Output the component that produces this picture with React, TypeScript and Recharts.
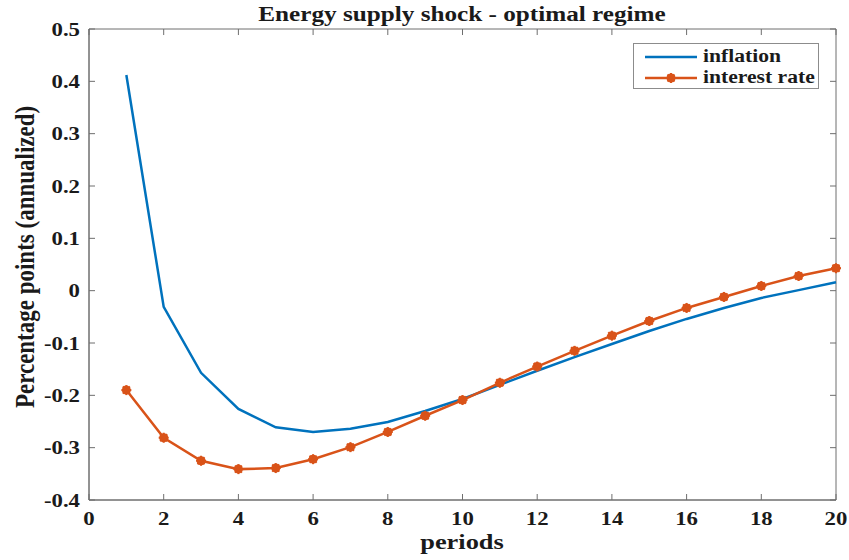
import { LineChart, Line, XAxis, YAxis, Legend, ReferenceArea, ReferenceLine } from 'recharts';

const periods = [1, 2, 3, 4, 5, 6, 7, 8, 9, 10, 11, 12, 13, 14, 15, 16, 17, 18, 19, 20];
const inflation = [0.412, -0.031, -0.157, -0.226, -0.261, -0.27, -0.264, -0.251, -0.23, -0.207, -0.18, -0.153, -0.127, -0.102, -0.077, -0.054, -0.033, -0.014, 0.001, 0.016];
const interestRate = [-0.19, -0.281, -0.325, -0.341, -0.339, -0.322, -0.299, -0.27, -0.239, -0.209, -0.176, -0.145, -0.115, -0.086, -0.058, -0.033, -0.012, 0.009, 0.028, 0.043];
const xTicks = [0, 2, 4, 6, 8, 10, 12, 14, 16, 18, 20];
const yTicks = [-0.4, -0.3, -0.2, -0.1, 0, 0.1, 0.2, 0.3, 0.4, 0.5];

const data = periods.map((p, i) => ({ period: p, inflation: inflation[i], rate: interestRate[i] }));

const BLUE = '#0072BD';
const ORANGE = '#D95319';
const AXIS = '#6e6e6e';
const TEXT = '#1a1a1a';
const FONT = '"Liberation Serif", "Times New Roman", serif';
const SX = 1.2; // the reference text is a bit wide

// matlab '*' marker drawn thick
function StarDot(props: any) {
  const { cx, cy, key } = props;
  if (cx == null || cy == null) return null;
  const r = 5;
  const d = r * 0.707;
  return (
    <g key={key} stroke={ORANGE} strokeWidth={2}>
      <circle cx={cx} cy={cy} r={3.5} fill={ORANGE} />
      <line x1={cx - r} y1={cy} x2={cx + r} y2={cy} />
      <line x1={cx} y1={cy - r} x2={cx} y2={cy + r} />
      <line x1={cx - d} y1={cy - d} x2={cx + d} y2={cy + d} />
      <line x1={cx - d} y1={cy + d} x2={cx + d} y2={cy - d} />
    </g>
  );
}

function XTick({ x, y, payload }: any) {
  return (
    <text transform={`translate(${x},${y}) scale(${SX},1)`} textAnchor="middle" fontFamily={FONT} fontWeight={700} fontSize={19} fill={TEXT}>
      {payload.value}
    </text>
  );
}

function YTick({ x, y, payload }: any) {
  const v = payload.value;
  return (
    <text transform={`translate(${x},${y + 6.5}) scale(${SX},1)`} textAnchor="end" fontFamily={FONT} fontWeight={700} fontSize={19} fill={TEXT}>
      {v === 0 ? '0' : v.toFixed(1)}
    </text>
  );
}

function LegendBox() {
  const row = { display: 'flex', alignItems: 'center', height: 21 } as const;
  const label = { marginLeft: 6, display: 'inline-block', transform: `scaleX(${SX})`, transformOrigin: 'left center' } as const;
  return (
    <div style={{ width: 186, height: 46, border: '1px solid #8c8c8c', background: '#fff', fontFamily: FONT, fontWeight: 700, fontSize: 18, color: TEXT, boxSizing: 'border-box', padding: '2px 0 0 11px', lineHeight: '21px' }}>
      <div style={row}>
        <svg width={52} height={10}><line x1={0} y1={5} x2={52} y2={5} stroke={BLUE} strokeWidth={2.5} /></svg>
        <span style={label}>inflation</span>
      </div>
      <div style={row}>
        <svg width={52} height={12}>
          <line x1={0} y1={6} x2={52} y2={6} stroke={ORANGE} strokeWidth={2.5} />
          <StarDot cx={26} cy={6} />
        </svg>
        <span style={label}>interest rate</span>
      </div>
    </div>
  );
}

export default function App() {
  return (
    <div style={{ position: 'absolute', left: 0, top: 0, width: 849, height: 560, background: '#fff' }}>
      <LineChart width={849} height={560} data={data} margin={{ top: 29, right: 13, left: 0, bottom: 0 }}>
        <XAxis
          dataKey="period"
          type="number"
          domain={[0, 20]}
          ticks={xTicks}
          height={60}
          tickSize={-6}
          tickMargin={31}
          tickLine={{ stroke: AXIS }}
          axisLine={{ stroke: AXIS }}
          tick={<XTick />}
          label={() => (
            <g>
              <text transform={`translate(462,549) scale(${SX},1)`} textAnchor="middle" fontFamily={FONT} fontWeight={700} fontSize={22} fill={TEXT}>periods</text>
              <text transform={`translate(462,21) scale(${SX},1)`} textAnchor="middle" fontFamily={FONT} fontWeight={700} fontSize={21} fill={TEXT}>Energy supply shock - optimal regime</text>
            </g>
          )}
        />
        <YAxis
          type="number"
          domain={[-0.4, 0.5]}
          ticks={yTicks}
          width={89}
          tickSize={-6}
          tickMargin={15}
          tickLine={{ stroke: AXIS }}
          axisLine={{ stroke: AXIS }}
          tick={<YTick />}
          label={() => (
            <text transform={`translate(34,257) rotate(-90) scale(1,${SX})`} textAnchor="middle" fontFamily={FONT} fontWeight={700} fontSize={23} fill={TEXT}>Percentage points (annualized)</text>
          )}
        />
        <ReferenceArea x1={0} x2={20} y1={-0.4} y2={0.5} fill="none" stroke={AXIS} strokeWidth={1} />
        {xTicks.map((t) => (
          <ReferenceLine key={`tx${t}`} segment={[{ x: t, y: 0.5 }, { x: t, y: 0.4885 }]} stroke={AXIS} />
        ))}
        {yTicks.map((t) => (
          <ReferenceLine key={`ty${t}`} segment={[{ x: 20, y: t }, { x: 19.84, y: t }]} stroke={AXIS} />
        ))}
        <Legend
          layout="horizontal"
          verticalAlign="middle"
          align="center"
          content={() => <LegendBox />}
          wrapperStyle={{ top: 43, left: 633, width: 186, height: 46 }}
        />
        <Line dataKey="inflation" stroke={BLUE} strokeWidth={2.5} dot={false} isAnimationActive={false} />
        <Line dataKey="rate" stroke={ORANGE} strokeWidth={2.5} dot={(p: any) => <StarDot {...p} />} isAnimationActive={false} />
      </LineChart>
    </div>
  );
}
